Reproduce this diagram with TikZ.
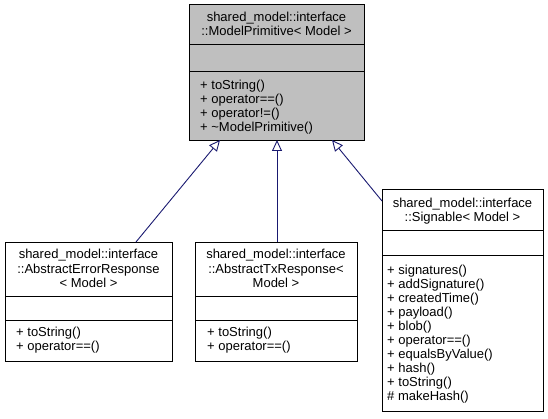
\documentclass[tikz,border=0pt]{standalone}
\usepackage{fontspec}
\setmainfont{Liberation Sans}
\usetikzlibrary{arrows.meta,calc}
\definecolor{edgeblue}{HTML}{191970}
\definecolor{boxgray}{HTML}{BFBFBF}
\tikzset{
  umlbox/.style={draw=black, line width=0.9pt, anchor=north west, inner sep=0pt, outer sep=0pt},
  txt/.style={inner sep=0pt, font=\fontsize{13}{14}\selectfont},
  inherit/.style={draw=edgeblue, line width=0.9pt, -{Triangle[open, length=11pt, width=10pt, fill=white]}},
}
\begin{document}
\begin{tikzpicture}[x=1pt, y=-1pt]
\useasboundingbox (0,0) rectangle (548,419);
% top box
\node[umlbox, fill=boxgray, minimum width=175pt, minimum height=136pt] (mp) at (189,4) {};
\draw[line width=0.9pt] (189,44) -- (364,44) (189,71) -- (364,71);
\node[txt, anchor=base] (mpt1) at (276.5,21.5) {shared\_model::interface};
\node[txt, anchor=base] (mpt2) at (276.5,36) {::ModelPrimitive< Model >};
\foreach \t [count=\i from 0] in {+ toString(), + operator==(), + operator!=(), + \char`~ModelPrimitive()}
  \node[txt, anchor=base west] (mpm\i) at (200, 89.5+14*\i) {\t};
% error response
\node[umlbox, fill=white, minimum width=167pt, minimum height=119pt] (err) at (5,242) {};
\draw[line width=0.9pt] (5,296) -- (172,296) (5,320) -- (172,320);
\foreach \t [count=\i from 0] in {shared\_model::interface, ::AbstractErrorResponse, < Model >}
  \node[txt, anchor=base] (errt\i) at (88.5, 258.5+14.5*\i) {\t};
\foreach \t [count=\i from 0] in {+ toString(), + operator==()}
  \node[txt, anchor=base west] (errm\i) at (16, 336.5+14*\i) {\t};
% tx response
\node[umlbox, fill=white, minimum width=162pt, minimum height=119pt] (tx) at (195,242) {};
\draw[line width=0.9pt] (195,296) -- (357,296) (195,320) -- (357,320);
\foreach \t [count=\i from 0] in {shared\_model::interface, ::AbstractTxResponse<, Model >}
  \node[txt, anchor=base] (txt\i) at (276, 258.5+14.5*\i) {\t};
\foreach \t [count=\i from 0] in {+ toString(), + operator==()}
  \node[txt, anchor=base west] (txm\i) at (207, 336.5+14*\i) {\t};
% signable
\node[umlbox, fill=white, minimum width=161pt, minimum height=222pt] (sig) at (382,189) {};
\draw[line width=0.9pt] (382,230) -- (543,230) (382,255) -- (543,255);
\foreach \t [count=\i from 0] in {shared\_model::interface, ::Signable< Model >}
  \node[txt, anchor=base] (sigt\i) at (462.5, 207.5+14*\i) {\t};
\foreach \t [count=\i from 0] in {+ signatures(), + addSignature(), + createdTime(), + payload(), + blob(), + operator==(), + equalsByValue(), + hash(), + toString(), \# makeHash()}
  \node[txt, anchor=base west] (sigm\i) at (387, 274.5+14*\i) {\t};
% inheritance edges
\draw[inherit] ($(err.north east)+(-36,0)$) -- ($(mp.south)+(-56.5,0)$);
\draw[inherit] ($(tx.north)+(1,0)$) -- ($(mp.south)+(0.5,0)$);
\draw[inherit] ($(sig.north west)+(0,12)$) -- ($(mp.south)+(55.5,0)$);
\end{tikzpicture}
\end{document}
